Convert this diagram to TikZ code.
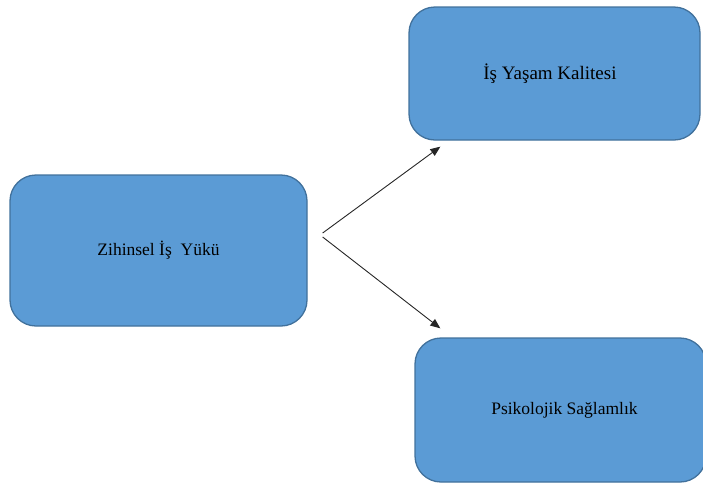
\documentclass[tikz,border=0pt]{standalone}
\usepackage{fontspec}
\setmainfont{Liberation Serif}
\usetikzlibrary{arrows.meta}
\definecolor{boxfill}{HTML}{5B9BD5}
\definecolor{boxline}{HTML}{41719C}
\begin{document}
\begin{tikzpicture}[x=1pt,y=-1pt,
  box/.style={draw=boxline, fill=boxfill, line width=1.3pt, rounded corners=26pt,
    inner sep=0pt, font=\fontsize{17.5}{20}\selectfont},
  conn/.style={draw=black!85, line width=0.9pt, -{Triangle[length=10pt,width=8pt]}}]
\useasboundingbox (0,0) rectangle (703,483);
\node[box, minimum width=297pt, minimum height=151pt] (zih) at (158.5,250.5) {Zihinsel İş~ Yükü};
\node[box, minimum width=291pt, minimum height=133pt, font=\fontsize{19}{22}\selectfont] (isy) at (554.5,73.5) {İş Yaşam Kalitesi\hspace*{9pt}};
\node[box, minimum width=291pt, minimum height=144pt] (psi) at (560.5,410) {\hspace*{8pt}Psikolojik Sağlamlık};
\coordinate (s1) at ([xshift=15pt,yshift=17.5pt]zih.east);
\coordinate (s2) at ([xshift=15pt,yshift=13.5pt]zih.east);
\coordinate (t1) at ([xshift=32pt,yshift=-6pt]isy.south west);
\coordinate (t2) at ([xshift=26pt,yshift=9pt]psi.north west);
\draw[conn] (s1) -- (t1);
\draw[conn] (s2) -- (t2);
\end{tikzpicture}
\end{document}
